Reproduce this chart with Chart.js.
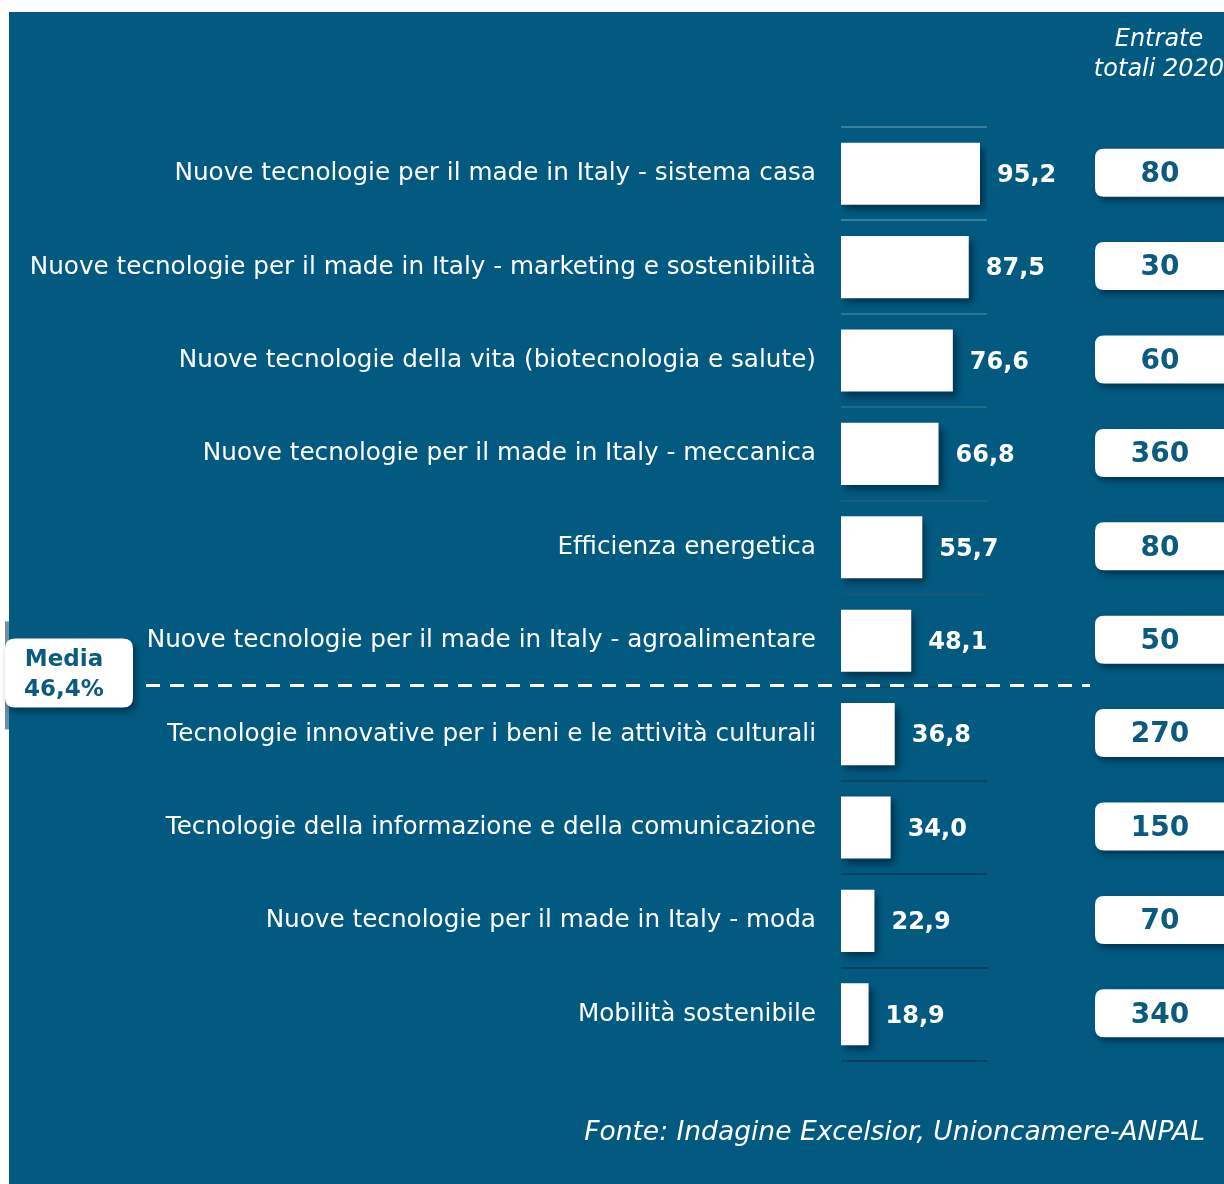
<!DOCTYPE html>
<html>
<head>
<meta charset="utf-8">
<script src="https://cdn.jsdelivr.net/npm/chart.js@4/dist/chart.umd.min.js"></script>
<style>
html,body{margin:0;padding:0;background:#fff;}
canvas{display:block;}
</style>
</head>
<body>
<canvas id="c" width="1224" height="1184"></canvas>
<script>
const categories = [
  "Nuove tecnologie per il made in Italy - sistema casa",
  "Nuove tecnologie per il made in Italy - marketing e sostenibilità",
  "Nuove tecnologie della vita (biotecnologia e salute)",
  "Nuove tecnologie per il made in Italy - meccanica",
  "Efficienza energetica",
  "Nuove tecnologie per il made in Italy - agroalimentare",
  "Tecnologie innovative per i beni e le attività culturali",
  "Tecnologie della informazione e della comunicazione",
  "Nuove tecnologie per il made in Italy - moda",
  "Mobilità sostenibile"
];
const shareValues = [95.2, 87.5, 76.6, 66.8, 55.7, 48.1, 36.8, 34.0, 22.9, 18.9];
const entrateTotali = [80, 30, 60, 360, 80, 50, 270, 150, 70, 340];
const mediaValue = 46.4;
const headerLines = ["Entrate", "totali 2020"];
const sourceText = "Fonte: Indagine Excelsior, Unioncamere-ANPAL";

const PANEL = '#035a80';
const TEAL_TEXT = '#0b5a80';
const fmt = v => v.toFixed(1).replace('.', ',');
const gridColors = ['#3a7f9c','#3a7f9c','#2f7592','#236a88','#1a5f7e','#155876','#0c4a68','#084362','#06405e','#053e5c','#053e5c'];

function roundRect(ctx, x, y, w, h, r) {
  ctx.beginPath();
  ctx.moveTo(x + r, y);
  ctx.lineTo(x + w - r, y);
  ctx.quadraticCurveTo(x + w, y, x + w, y + r);
  ctx.lineTo(x + w, y + h - r);
  ctx.quadraticCurveTo(x + w, y + h, x + w - r, y + h);
  ctx.lineTo(x + r, y + h);
  ctx.quadraticCurveTo(x, y + h, x, y + h - r);
  ctx.lineTo(x, y + r);
  ctx.quadraticCurveTo(x, y, x + r, y);
  ctx.closePath();
}

const bgPlugin = {
  id: 'bg',
  beforeDraw(chart) {
    const ctx = chart.ctx;
    ctx.save();
    ctx.fillStyle = '#ffffff';
    ctx.fillRect(0, 0, chart.width, chart.height);
    ctx.fillStyle = PANEL;
    ctx.fillRect(9, 12, chart.width - 9, chart.height - 12);
    ctx.restore();
  }
};

const shadowPlugin = {
  id: 'barShadow',
  beforeDatasetsDraw(chart) {
    const ctx = chart.ctx;
    ctx.save();
    ctx.shadowColor = 'rgba(0,20,40,0.55)';
    ctx.shadowBlur = 7;
    ctx.shadowOffsetX = 4;
    ctx.shadowOffsetY = 5;
  },
  afterDatasetsDraw(chart) {
    chart.ctx.restore();
  }
};

const extrasPlugin = {
  id: 'extras',
  afterDraw(chart) {
    const ctx = chart.ctx;
    const meta = chart.getDatasetMeta(0);
    const yScale = chart.scales.y;
    ctx.save();
    // value labels
    ctx.fillStyle = '#ffffff';
    ctx.font = 'bold 24px "DejaVu Sans"';
    ctx.textAlign = 'left';
    ctx.textBaseline = 'middle';
    meta.data.forEach((bar, i) => {
      ctx.fillText(fmt(shareValues[i]), bar.x + 17, bar.y + 2);
    });
    // right boxes
    meta.data.forEach((bar, i) => {
      const cy = bar.y - 1;
      ctx.save();
      ctx.shadowColor = 'rgba(0,20,40,0.55)';
      ctx.shadowBlur = 6;
      ctx.shadowOffsetX = 3;
      ctx.shadowOffsetY = 4;
      ctx.fillStyle = '#ffffff';
      roundRect(ctx, 1095, cy - 24, 140, 48, 9);
      ctx.fill();
      ctx.restore();
      ctx.fillStyle = TEAL_TEXT;
      ctx.font = 'bold 28px "DejaVu Sans"';
      ctx.textAlign = 'center';
      ctx.textBaseline = 'middle';
      ctx.fillText(String(entrateTotali[i]), 1160, cy + 2);
    });
    // header
    ctx.fillStyle = '#ffffff';
    ctx.font = 'italic 24px "DejaVu Sans"';
    ctx.textAlign = 'center';
    ctx.textBaseline = 'middle';
    ctx.fillText(headerLines[0], 1159, 40);
    ctx.fillText(headerLines[1], 1159, 70);
    // media dashed line between category 5 and 6
    const yMid = (yScale.getPixelForValue(5) + yScale.getPixelForValue(6)) / 2 - 2;
    ctx.strokeStyle = '#ffffff';
    ctx.lineWidth = 3;
    ctx.setLineDash([14, 10]);
    ctx.beginPath();
    ctx.moveTo(146, yMid);
    ctx.lineTo(1090, yMid);
    ctx.stroke();
    ctx.setLineDash([]);
    // small left strip
    ctx.fillStyle = '#6b8fa3';
    ctx.fillRect(5, yMid - 64, 4, 108);
    // media box
    ctx.save();
    ctx.shadowColor = 'rgba(0,20,40,0.55)';
    ctx.shadowBlur = 6;
    ctx.shadowOffsetX = 3;
    ctx.shadowOffsetY = 4;
    ctx.fillStyle = '#ffffff';
    roundRect(ctx, 5, yMid - 47, 128, 69, 10);
    ctx.fill();
    ctx.restore();
    ctx.fillStyle = TEAL_TEXT;
    ctx.font = 'bold 23px "DejaVu Sans"';
    ctx.textAlign = 'center';
    ctx.fillText('Media', 64, yMid - 25);
    ctx.fillText(fmt(mediaValue) + '%', 64, yMid + 5);
    // source
    ctx.fillStyle = '#ffffff';
    ctx.font = 'italic 26.5px "DejaVu Sans"';
    ctx.textAlign = 'right';
    ctx.fillText(sourceText, 1205, 1133);
    ctx.restore();
  }
};

new Chart(document.getElementById('c'), {
  type: 'bar',
  data: {
    labels: categories,
    datasets: [{
      data: shareValues,
      backgroundColor: '#ffffff',
      borderWidth: 0,
      categoryPercentage: 1,
      barPercentage: 0.665
    }]
  },
  options: {
    indexAxis: 'y',
    responsive: false,
    animation: false,
    devicePixelRatio: 1,
    layout: { padding: { left: 0, top: 127, right: 237, bottom: 123 } },
    plugins: { legend: { display: false }, tooltip: { enabled: false } },
    scales: {
      x: { display: false, min: 0, max: 100 },
      y: {
        afterFit(scale) { scale.width = 841; },
        border: { display: false },
        grid: {
          offset: true,
          drawTicks: false,
          lineWidth: 2,
          color: ctx => gridColors[ctx.index === undefined ? 10 : ctx.index]
        },
        ticks: {
          color: '#ffffff',
          padding: 25,
          font: { family: '"DejaVu Sans"', size: 24.7, weight: 'normal' }
        }
      }
    }
  },
  plugins: [bgPlugin, shadowPlugin, extrasPlugin]
});
</script>
</body>
</html>
